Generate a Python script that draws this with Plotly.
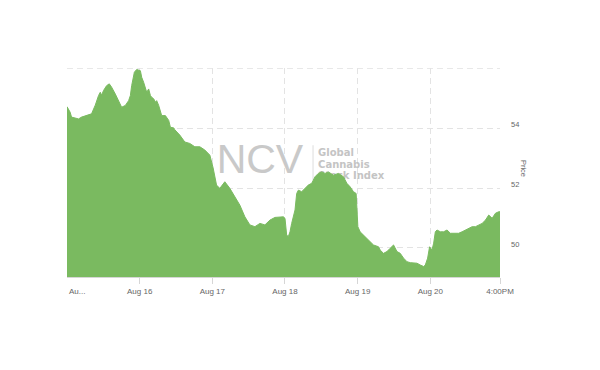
import plotly.graph_objects as go

# x: days since Aug 15 00:00 (trading-time axis), y: price
days = [0.000, 0.044, 0.062, 0.113, 0.159, 0.200, 0.269, 0.338, 0.389, 0.407,
        0.434, 0.458, 0.476, 0.503, 0.545, 0.582, 0.614, 0.665, 0.710, 0.752,
        0.803, 0.848, 0.872, 0.890, 0.927, 0.959, 1.010, 1.028, 1.055, 1.079,
        1.097, 1.124, 1.148, 1.166, 1.193, 1.217, 1.234, 1.262, 1.286, 1.303,
        1.354, 1.400, 1.423, 1.469, 1.483, 1.552, 1.621, 1.690, 1.759, 1.828,
        1.897, 1.966, 2.011, 2.058, 2.103, 2.172, 2.241, 2.310, 2.379, 2.448,
        2.517, 2.586, 2.655, 2.724, 2.793, 2.862, 2.931, 2.977, 3.000, 3.023,
        3.046, 3.069, 3.092, 3.138, 3.161, 3.184, 3.230, 3.276, 3.321, 3.368,
        3.414, 3.459, 3.506, 3.552, 3.597, 3.666, 3.735, 3.804, 3.851, 3.897,
        3.942, 3.979, 4.003, 4.034, 4.080, 4.149, 4.218, 4.287, 4.310, 4.356,
        4.403, 4.448, 4.494, 4.541, 4.586, 4.632, 4.679, 4.724, 4.770, 4.817,
        4.862, 4.908, 4.931, 4.963, 4.990, 5.023, 5.046, 5.069, 5.092, 5.138,
        5.183, 5.230, 5.276, 5.321, 5.390, 5.437, 5.483, 5.528, 5.575, 5.621,
        5.666, 5.713, 5.759, 5.804, 5.851, 5.897, 5.942, 5.959]
price = [54.72, 54.53, 54.37, 54.33, 54.31, 54.37, 54.42, 54.48, 54.77, 54.93,
         55.09, 55.20, 55.10, 55.26, 55.42, 55.48, 55.37, 55.14, 54.92, 54.70,
         54.76, 54.92, 55.09, 55.42, 55.87, 55.96, 55.92, 55.70, 55.53, 55.37,
         55.20, 55.31, 55.09, 55.03, 54.98, 54.87, 54.92, 54.76, 54.59, 54.42,
         54.42, 54.26, 54.03, 54.01, 53.95, 53.77, 53.54, 53.49, 53.38, 53.38,
         53.27, 53.10, 52.67, 52.10, 51.99, 52.21, 51.99, 51.71, 51.43, 51.04,
         50.77, 50.71, 50.82, 50.77, 50.93, 51.02, 51.03, 51.04, 50.99, 50.43,
         50.38, 50.54, 50.82, 51.27, 51.82, 51.93, 51.88, 51.99, 52.10, 52.16,
         52.38, 52.49, 52.54, 52.49, 52.54, 52.43, 52.49, 52.38, 52.16, 52.04,
         51.88, 51.82, 50.71, 50.54, 50.43, 50.27, 50.10, 50.04, 49.93, 49.82,
         49.88, 49.99, 50.10, 49.88, 49.82, 49.66, 49.54, 49.51, 49.49, 49.49,
         49.43, 49.38, 49.43, 49.66, 50.04, 49.93, 50.16, 50.54, 50.60, 50.54,
         50.54, 50.60, 50.49, 50.49, 50.49, 50.54, 50.60, 50.66, 50.71, 50.71,
         50.77, 50.82, 50.93, 51.10, 50.99, 51.16, 51.21, 51.21]

x_tickvals = [1, 2, 3, 4, 5, 5.959]
x_ticktext = ["Aug 16", "Aug 17", "Aug 18", "Aug 19", "Aug 20", "4:00PM"]
first_label = "Au..."
y_tickvals = [50, 52, 54]
y_ticktext = ["50", "52", "54"]
y_top = 56

FONT = "Liberation Sans, Arial, sans-serif"
GREEN = "#7aba60"
GRID = "#e3e3e3"

fig = go.Figure()

# watermark (drawn before the area so the area covers it)
fig.add_trace(go.Scatter(
    x=[2.655], y=[52.83], mode="text", text=["NCV"],
    textposition="middle center",
    textfont=dict(family=FONT, size=41, color="#c9c9c9"),
    hoverinfo="skip", showlegend=False))
fig.add_trace(go.Scatter(
    x=[3.386, 3.386], y=[53.43, 52.27], mode="lines",
    line=dict(color="#dddddd", width=1),
    hoverinfo="skip", showlegend=False))
fig.add_trace(go.Scatter(
    x=[3.455, 3.455, 3.455], y=[53.157, 52.767, 52.377], mode="text",
    text=["<b>Global</b>", "<b>Cannabis</b>", "<b>Stock Index</b>"],
    textposition="middle right",
    textfont=dict(family="DejaVu Sans", size=10, color="#c4c4c4"),
    hoverinfo="skip", showlegend=False))

fig.add_trace(go.Scatter(
    x=days, y=price, mode="lines", fill="tozeroy",
    line=dict(color=GREEN, width=1), fillcolor=GREEN,
    showlegend=False))

fig.update_layout(
    width=600, height=370,
    margin=dict(l=67, r=100, t=68, b=93),
    paper_bgcolor="white", plot_bgcolor="white",
    font=dict(family=FONT, size=8, color="#666666"),
    xaxis=dict(
        range=[0, 5.959], tickvals=x_tickvals, ticktext=x_ticktext,
        showgrid=True, gridcolor=GRID, griddash="6px,4px", gridwidth=1,
        showline=True, linecolor="#d6d6d6", linewidth=1,
        ticks="outside", ticklen=6, tickcolor="#d6d6d6",
        tickfont=dict(size=8, color="#666666"), zeroline=False),
    yaxis=dict(
        range=[49.03, 56.01], side="right", tickvals=y_tickvals, ticktext=y_ticktext,
        showgrid=True, gridcolor=GRID, griddash="6px,4px", gridwidth=1,
        showline=False, zeroline=False, ticks="",
        ticklabelstandoff=10, ticklabelshift=-4,
        tickfont=dict(size=7.5, color="#666666")),
    shapes=[dict(type="line", xref="paper", yref="y", x0=0, x1=1, y0=y_top, y1=y_top,
                 line=dict(color=GRID, width=1, dash="6px,4px"), layer="below")],
    annotations=[
        dict(x=0, y=0, xref="x", yref="paper", text=first_label, showarrow=False,
             xanchor="left", yanchor="top", yshift=-8, xshift=0,
             font=dict(size=8, color="#666666")),
        dict(x=1.0706, y=0.5215, xref="paper", yref="paper", text="Price",
             showarrow=False, textangle=90, font=dict(size=7.5, color="#666666")),
    ],
)

fig.write_html("out.html")
